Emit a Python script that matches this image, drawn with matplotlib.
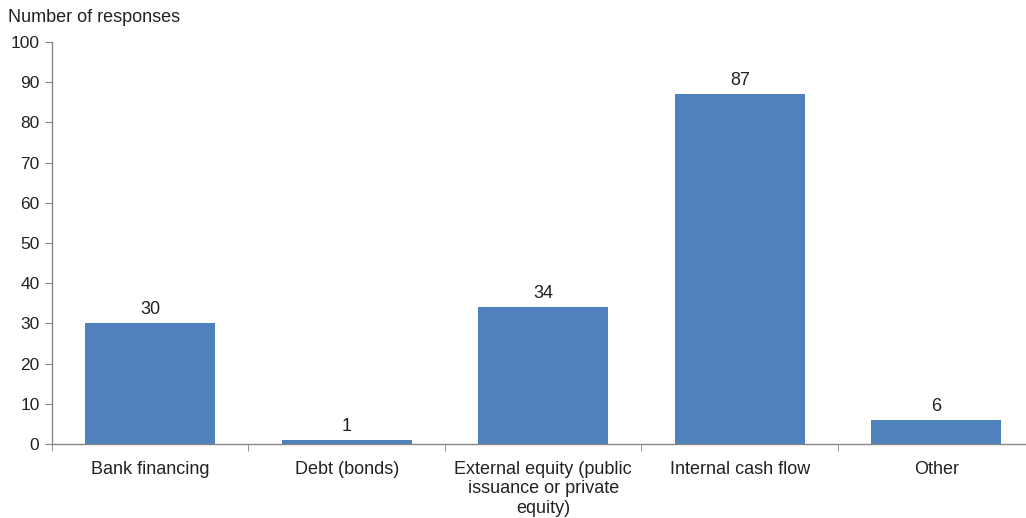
import matplotlib
matplotlib.use('Agg')
import matplotlib.pyplot as plt
import numpy as np

categories = ['Bank financing', 'Debt (bonds)',
              'External equity (public\nissuance or private\nequity)',
              'Internal cash flow', 'Other']
responses = [30, 1, 34, 87, 6]

plt.rcParams['font.family'] = ['Liberation Sans', 'DejaVu Sans']

fig = plt.figure(figsize=(10.26, 5.18), dpi=100)
ax = fig.add_axes([52 / 1026, 74 / 518, 973 / 1026, 402 / 518])

x = np.arange(len(categories))
bars = ax.bar(x, responses, width=0.66, color='#4F81BD', zorder=2)
for bar, v in zip(bars, responses):
    ax.text(bar.get_x() + bar.get_width() / 2, v + 1.3, f'{v}',
            ha='center', va='bottom', fontsize=13, color='#222222')

ax.set_yticks(range(0, 101, 10))
ax.tick_params(axis='y', direction='out', length=5, color='#868686',
               labelsize=12.5, labelcolor='#222222', pad=4)

# category labels centered, tick marks between categories
ax.set_xticks(x)
ax.set_xticklabels(categories, fontsize=13, color='#222222', linespacing=1.2)
ax.tick_params(axis='x', length=0, pad=12)
ax.set_xticks(np.arange(-0.5, 5, 1), minor=True)
ax.tick_params(axis='x', which='minor', direction='out', length=5, color='#868686')

# limits after ticks so the minor ticks don't widen the view
ax.set_xlim(-0.5, 4.452)
ax.set_ylim(0, 100)

for side in ['top', 'right']:
    ax.spines[side].set_visible(False)
for side in ['left', 'bottom']:
    ax.spines[side].set_color('#868686')
    ax.spines[side].set_linewidth(1.0)

fig.text(8 / 1026, 1 - 18 / 518, 'Number of responses', ha='left', va='center',
         fontsize=13, color='#222222')

fig.savefig('out.png', dpi=100)
